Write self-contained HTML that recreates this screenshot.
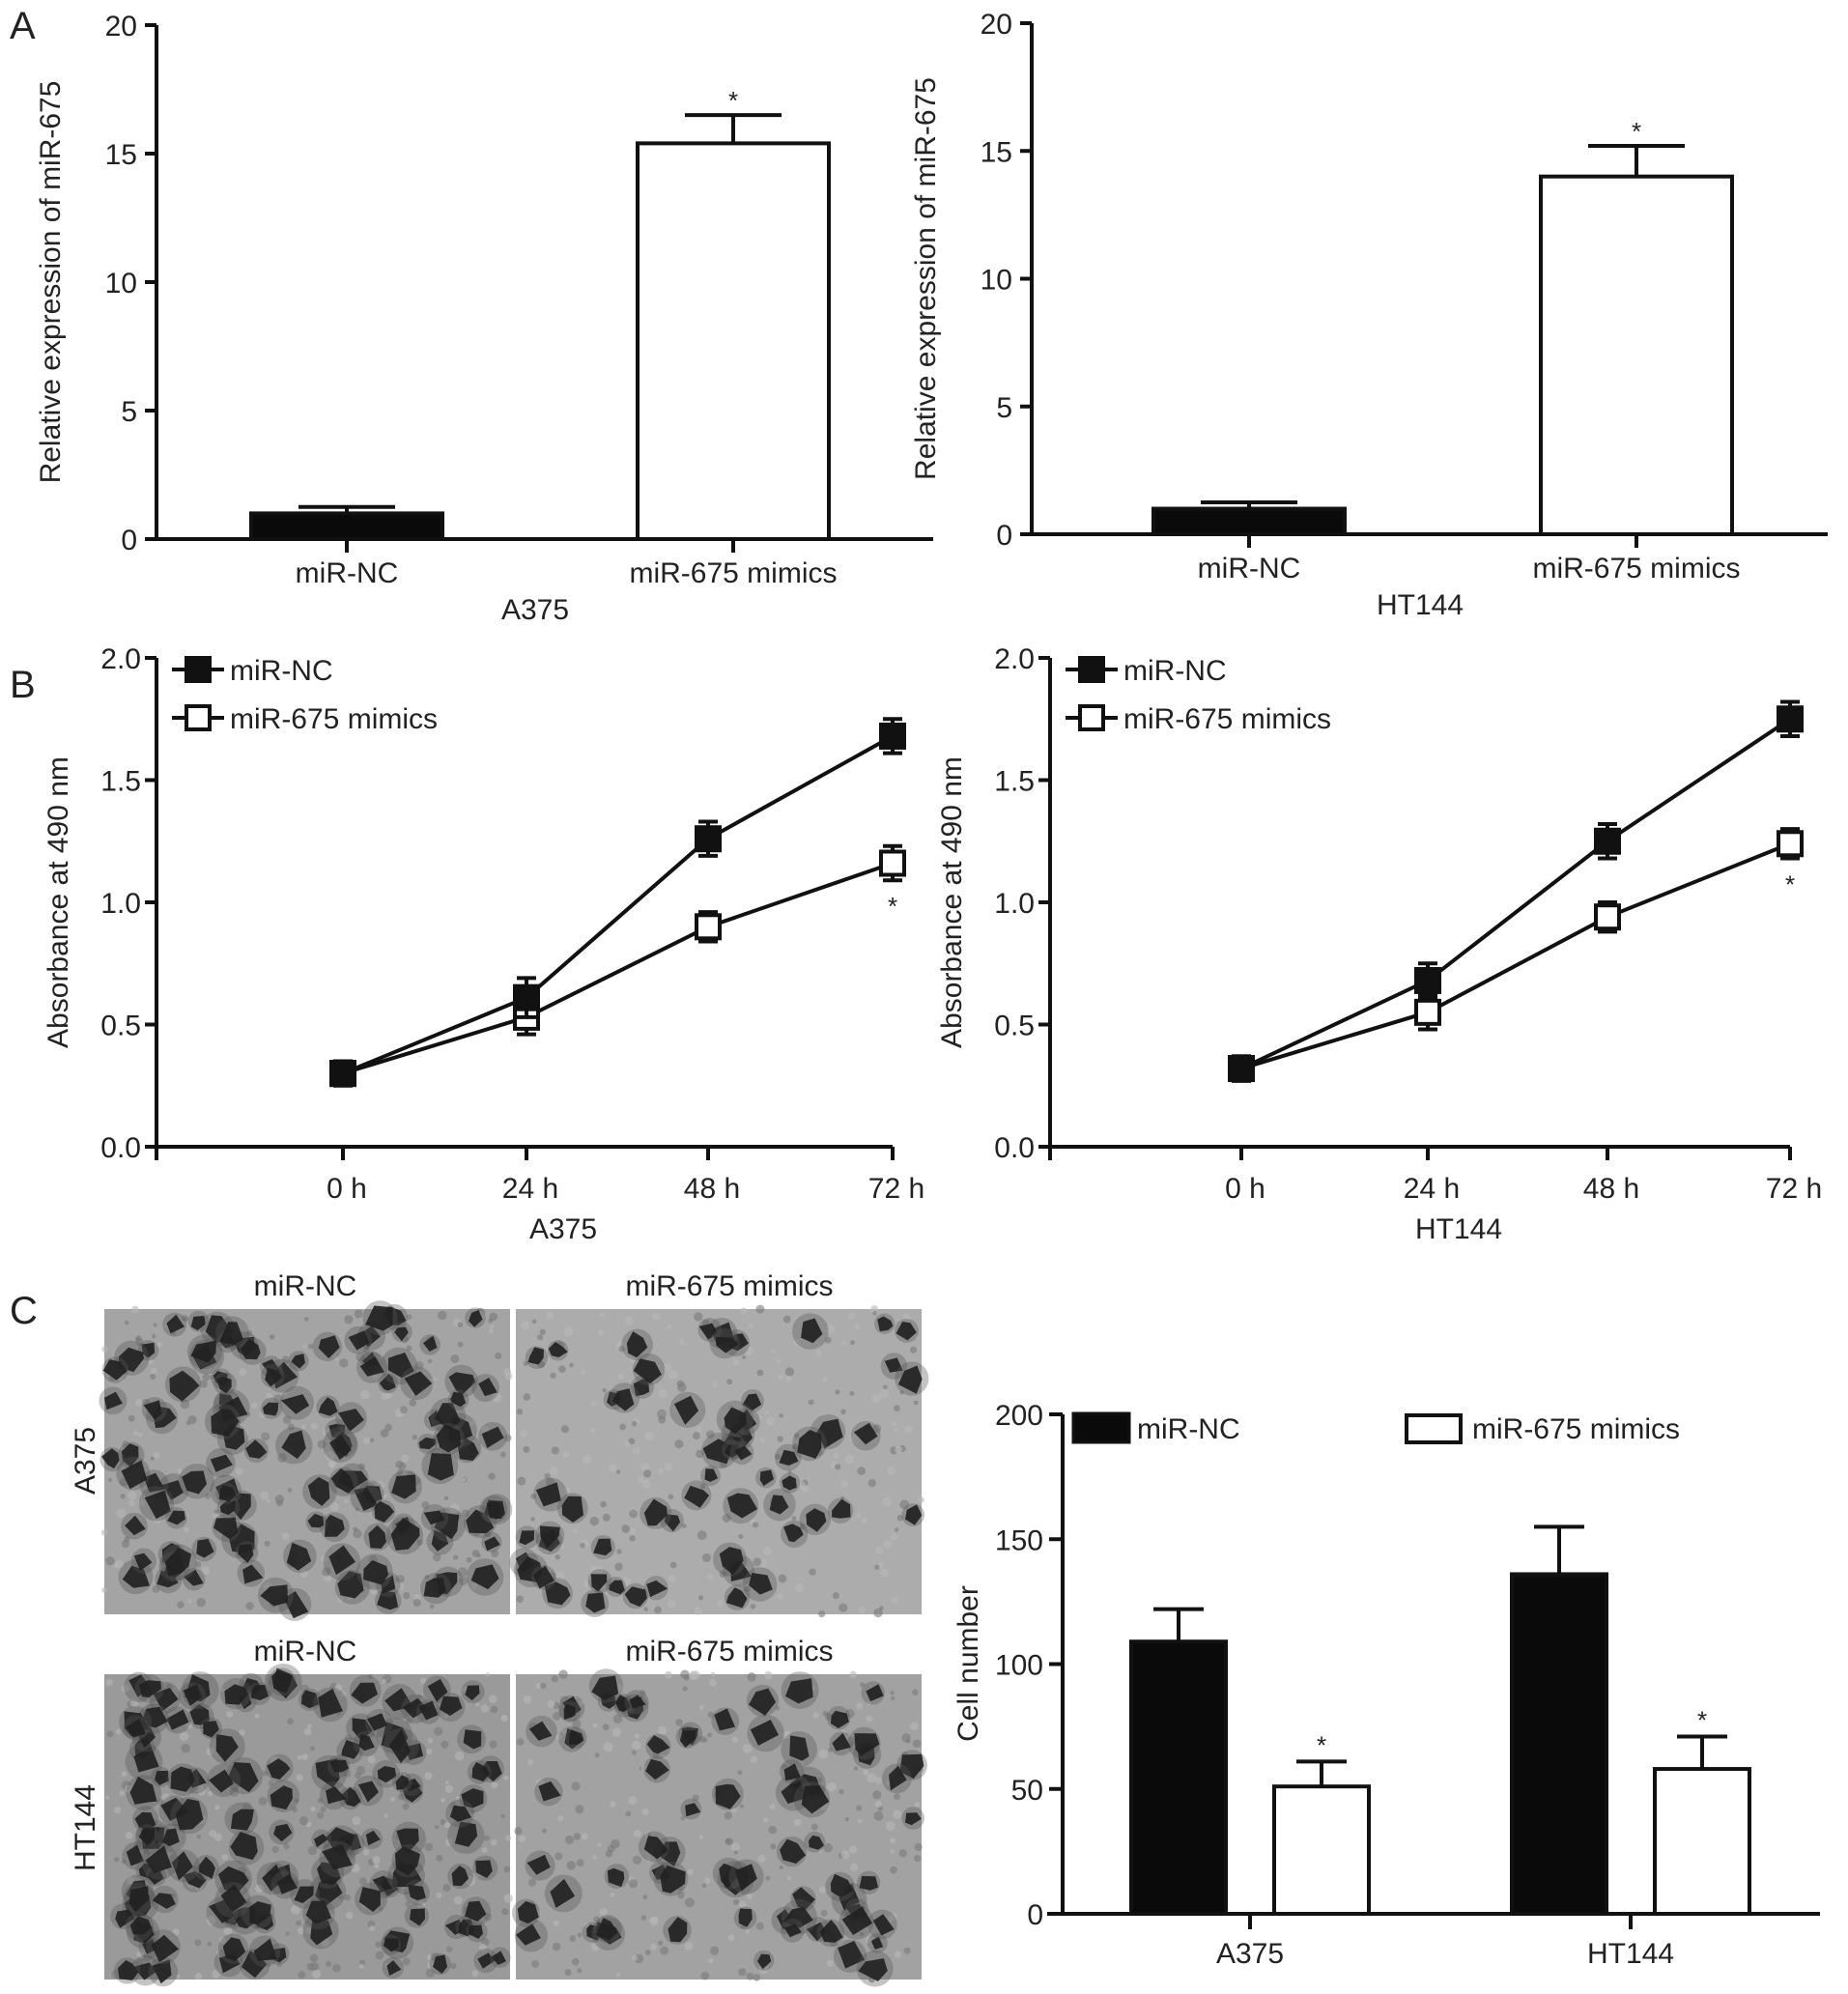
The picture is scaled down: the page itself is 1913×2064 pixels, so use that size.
<!DOCTYPE html>
<html><head><meta charset="utf-8"><style>
html,body{margin:0;padding:0;background:#fff;width:1913px;height:2064px;overflow:hidden}
svg text{font-family:"Liberation Sans",sans-serif;fill:#222}
</style></head><body>
<svg id="fig" width="1913" height="2064" viewBox="0 0 1913 2064" xmlns="http://www.w3.org/2000/svg"></svg>
<script>
// Panel A data
const aCats = ["miR-NC", "miR-675 mimics"];
const aA375 = [1.0, 15.4];
const aA375Err = [0.25, 1.1];
const aHT144 = [1.0, 14.0];
const aHT144Err = [0.25, 1.2];
const aTicks = [0, 5, 10, 15, 20];
// Panel B data
const bTimes = ["0 h", "24 h", "48 h", "72 h"];
const bA375NC = [0.30, 0.61, 1.26, 1.68];
const bA375NCErr = [0.05, 0.08, 0.07, 0.07];
const bA375Mim = [0.30, 0.53, 0.90, 1.16];
const bA375MimErr = [0.04, 0.07, 0.06, 0.07];
const bHTNC = [0.32, 0.68, 1.25, 1.75];
const bHTNCErr = [0.05, 0.07, 0.07, 0.07];
const bHTMim = [0.32, 0.55, 0.94, 1.24];
const bHTMimErr = [0.05, 0.07, 0.06, 0.06];
const bTicks = ["0.0", "0.5", "1.0", "1.5", "2.0"];
// Panel C data
const cGroups = ["A375", "HT144"];
const cNC = [109, 136];
const cNCErr = [13, 19];
const cMim = [51, 58];
const cMimErr = [10, 13];
const cTicks = [0, 50, 100, 150, 200];

const S = document.getElementById('fig');
const NS = "http://www.w3.org/2000/svg";
const FS = 30;
function el(tag, attrs, parent) {
  const e = document.createElementNS(NS, tag);
  for (const k in attrs) e.setAttribute(k, attrs[k]);
  (parent || S).appendChild(e);
  return e;
}
function txt(s, x, y, size, anchor, name, rot) {
  const t = el('text', {x: x, y: y, 'font-size': size, 'text-anchor': anchor || 'middle'});
  if (rot) t.setAttribute('transform', 'rotate(-90 ' + x + ' ' + y + ')');
  t.textContent = s;
  
  
  return t;
}
function line(x1, y1, x2, y2, w, name) {
  const l = el('line', {x1: x1, y1: y1, x2: x2, y2: y2, stroke: '#111', 'stroke-width': w || 4});
  
  
  return l;
}

txt("A", 10, 40, 40, 'start', 'panel-label-a');
txt("B", 10, 722, 40, 'start', 'panel-label-b');
txt("C", 10, 1370, 40, 'start', 'panel-label-c');

// ---------- Panel A ----------
function barPanelA(ax, y0, y20, xEnd, barL, vals, errs, groupLabel, prefix) {
  const yS = v => y0 - (y0 - y20) * v / 20;
  line(ax, y20, ax, y0 + 2, 4, prefix + '-y-axis');
  line(ax - 2, y0, xEnd, y0, 4, prefix + '-x-axis');
  aTicks.forEach(t => {
    line(ax - 12, yS(t), ax, yS(t), 4, prefix + '-y-tick');
    txt(String(t), ax - 20, yS(t) + 11, FS, 'end', prefix + '-y-tick-label');
  });
  vals.forEach((v, i) => {
    const x = barL[i], w = 198, cx = x + w / 2;
    const r = el('rect', {x: x, y: yS(v), width: w, height: y0 - yS(v), fill: i === 0 ? '#0a0a0a' : '#fff', stroke: '#111', 'stroke-width': 4});
    
    
    line(cx, yS(v), cx, yS(v + errs[i]), 4, prefix + '-error-bar');
    line(cx - 50, yS(v + errs[i]), cx + 50, yS(v + errs[i]), 4, prefix + '-error-cap');
    line(cx, y0, cx, y0 + 14, 4, prefix + '-x-tick');
    txt(aCats[i], cx, y0 + 45, FS, 'middle', prefix + '-x-tick-label');
    if (i === 1) txt("*", cx, yS(v + errs[i]) - 6, 26, 'middle', prefix + '-significance-star');
  });
  txt(groupLabel, (ax + xEnd) / 2 - 10, y0 + 83, FS, 'middle', prefix + '-x-axis-title');
  txt("Relative expression of miR-675", ax - 100, (y0 + y20) / 2, FS, 'middle', prefix + '-y-axis-title', true);
}
barPanelA(162, 558, 26, 966, [260, 660], aA375, aA375Err, "A375", 'a-a375');
barPanelA(1068, 553, 24, 1892, [1194, 1595], aHT144, aHT144Err, "HT144", 'a-ht144');

// ---------- Panel B ----------
function linePanel(ax, y0, y2, xs, nc, ncE, mm, mmE, groupLabel, prefix) {
  const yS = v => y0 - (y0 - y2) * v / 2;
  const xEnd = xs[3];
  line(ax, y2, ax, y0 + 14, 4, prefix + '-y-axis');
  line(ax - 2, y0, xEnd, y0, 4, prefix + '-x-axis');
  bTicks.forEach(t => {
    const v = parseFloat(t);
    line(ax - 12, yS(v), ax, yS(v), 4, prefix + '-y-tick');
    txt(t, ax - 16, yS(v) + 11, FS, 'end', prefix + '-y-tick-label');
  });
  xs.forEach((x, i) => {
    line(x, y0, x, y0 + 14, 4, prefix + '-x-tick');
    txt(bTimes[i], x + 4, y0 + 53, FS, 'middle', prefix + '-x-tick-label');
  });
  txt(groupLabel, (ax + xEnd) / 2 + 40, y0 + 95, FS, 'middle', prefix + '-x-axis-title');
  txt("Absorbance at 490 nm", ax - 92, (y0 + y2) / 2, FS, 'middle', prefix + '-y-axis-title', true);
  [[mm, mmE, false], [nc, ncE, true]].forEach(([vals, errs, filled]) => {
    const pts = vals.map((v, i) => xs[i] + ',' + yS(v)).join(' ');
    const pl = el('polyline', {points: pts, fill: 'none', stroke: '#111', 'stroke-width': 4});
    
    
    vals.forEach((v, i) => {
      const x = xs[i];
      line(x, yS(v - errs[i]), x, yS(v + errs[i]), 4, prefix + '-error-bar');
      line(x - 10, yS(v + errs[i]), x + 10, yS(v + errs[i]), 4, prefix + '-error-cap');
      line(x - 10, yS(v - errs[i]), x + 10, yS(v - errs[i]), 4, prefix + '-error-cap');
      const r = el('rect', {x: x - 12, y: yS(v) - 12, width: 24, height: 24, fill: filled ? '#111' : '#fff', stroke: '#111', 'stroke-width': 4});
      
      
    });
  });
  txt("*", xs[3], yS(mm[3] - mmE[3]) + 36, 26, 'middle', prefix + '-significance-star');
  [["miR-NC", true, y2 + 12], ["miR-675 mimics", false, y2 + 62]].forEach(([lab, filled, ly]) => {
    line(ax + 16, ly, ax + 70, ly, 4, prefix + '-legend-line');
    const r = el('rect', {x: ax + 31, y: ly - 12, width: 24, height: 24, fill: filled ? '#111' : '#fff', stroke: '#111', 'stroke-width': 4});
    
    
    txt(lab, ax + 76, ly + 11, FS, 'start', prefix + '-legend-label');
  });
}
linePanel(162, 1187, 681, [355, 545, 733, 924], bA375NC, bA375NCErr, bA375Mim, bA375MimErr, "A375", 'b-a375');
linePanel(1087, 1187, 681, [1285, 1478, 1664, 1853], bHTNC, bHTNCErr, bHTMim, bHTMimErr, "HT144", 'b-ht144');

// ---------- Panel C images ----------
let seed = 7;
function rnd() { seed = (seed * 16807) % 2147483647; return seed / 2147483647; }
function photo(x, y, w, h, n, name, base) {
  const g = el('g', {});
  
  
  el('rect', {x: x, y: y, width: w, height: h, fill: base}, g);
  for (let i = 0; i < 260; i++) {
    el('circle', {cx: x + rnd() * w, cy: y + rnd() * h, r: 2 + rnd() * 3, fill: rnd() > 0.5 ? '#7a7a7a' : '#b8b8b8', opacity: 0.6}, g);
  }
  for (let i = 0; i < n; i++) {
    const cx = x + 8 + rnd() * (w - 16), cy = y + 8 + rnd() * (h - 16), r = 8 + rnd() * 7;
    el('circle', {cx: cx, cy: cy, r: r * 1.3, fill: '#555', opacity: 0.35}, g);
    let pts = [];
    const k = 4 + Math.floor(rnd() * 3);
    for (let j = 0; j < k; j++) {
      const a = j / k * 6.283 + rnd() * 0.6, rr = r * (0.75 + rnd() * 0.5);
      pts.push((cx + Math.cos(a) * rr).toFixed(1) + ',' + (cy + Math.sin(a) * rr).toFixed(1));
    }
    el('polygon', {points: pts.join(' '), fill: '#222', opacity: 0.92}, g);
  }
}
photo(108, 1355, 420, 316, 115, 'photo-a375-mir-nc', '#a4a4a4');
photo(534, 1355, 420, 316, 60, 'photo-a375-mimics', '#acacac');
photo(108, 1733, 420, 316, 135, 'photo-ht144-mir-nc', '#9a9a9a');
photo(534, 1733, 420, 316, 70, 'photo-ht144-mimics', '#a2a2a2');
txt("miR-NC", 316, 1341, FS, 'middle', 'photo-label-mir-nc-top');
txt("miR-675 mimics", 755, 1341, FS, 'middle', 'photo-label-mimics-top');
txt("miR-NC", 316, 1719, FS, 'middle', 'photo-label-mir-nc-bottom');
txt("miR-675 mimics", 755, 1719, FS, 'middle', 'photo-label-mimics-bottom');
txt("A375", 98, 1512, FS, 'middle', 'photo-row-label-a375', true);
txt("HT144", 98, 1892, FS, 'middle', 'photo-row-label-ht144', true);

// ---------- Panel C chart ----------
(function () {
  const ax = 1100, y0 = 1981, y200 = 1464, xEnd = 1884;
  const yS = v => y0 - (y0 - y200) * v / 200;
  const centers = [1294, 1688];
  line(ax, y200, ax, y0 + 2, 4, 'c-y-axis');
  line(ax - 16, y0, xEnd, y0, 4, 'c-x-axis');
  cTicks.forEach(t => {
    line(ax - 14, yS(t), ax, yS(t), 4, 'c-y-tick');
    txt(String(t), ax - 20, yS(t) + 11, FS, 'end', 'c-y-tick-label');
  });
  txt("Cell number", 1012, 1722, FS, 'middle', 'c-y-axis-title', true);
  cGroups.forEach((gname, i) => {
    const c = centers[i];
    [[cNC[i], cNCErr[i], c - 123, true], [cMim[i], cMimErr[i], c + 25, false]].forEach(([v, e, x, filled]) => {
      const w = 98, cx = x + w / 2;
      line(cx, yS(v), cx, yS(v + e), 4, 'c-error-bar');
      line(cx - 26, yS(v + e), cx + 26, yS(v + e), 4, 'c-error-cap');
      const r = el('rect', {x: x, y: yS(v), width: w, height: y0 - yS(v), fill: filled ? '#0a0a0a' : '#fff', stroke: '#111', 'stroke-width': 4});
      
      
      if (!filled) txt("*", cx, yS(v + e) - 8, 26, 'middle', 'c-significance-star');
    });
    line(c, y0, c, y0 + 16, 4, 'c-x-tick');
    txt(gname, c, y0 + 51, FS, 'middle', 'c-x-tick-label');
  });
  const l1 = el('rect', {x: 1111, y: 1463, width: 58, height: 30, fill: '#0a0a0a', stroke: '#111', 'stroke-width': 3});
  
  
  txt("miR-NC", 1177, 1489, FS, 'start', 'c-legend-label-mir-nc');
  const l2 = el('rect', {x: 1456, y: 1465, width: 56, height: 28, fill: '#fff', stroke: '#111', 'stroke-width': 4});
  
  
  txt("miR-675 mimics", 1524, 1489, FS, 'start', 'c-legend-label-mimics');
})();
</script>
</body></html>
